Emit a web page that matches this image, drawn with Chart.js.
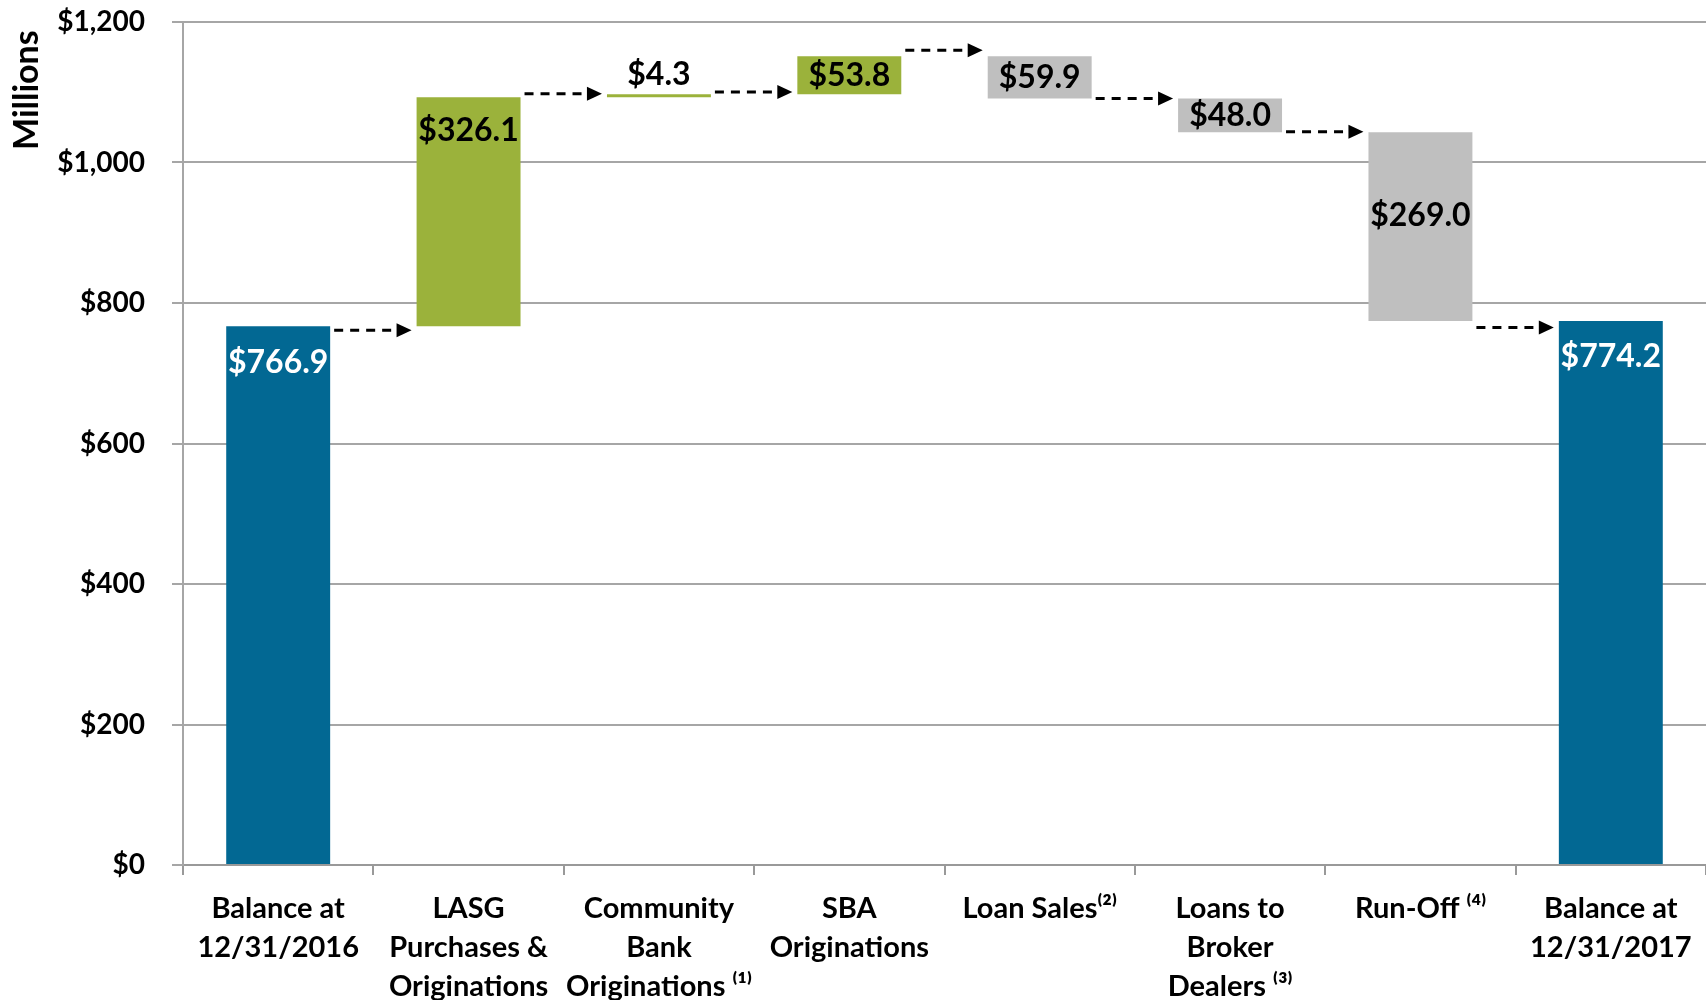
<!DOCTYPE html>
<html><head><meta charset="utf-8">
<script src="https://cdn.jsdelivr.net/npm/chart.js@4.4.1/dist/chart.umd.min.js"></script>
<style>html,body{margin:0;padding:0;background:#fff;overflow:hidden}#wrap{width:1706px;height:1000px;}</style>
</head><body><div id="wrap"><canvas id="c" width="1706" height="1000"></canvas></div>
<script>
// ---- data ----
const categories = [
  ['Balance at', '12/31/2016'],
  ['LASG', 'Purchases &', 'Originations'],
  ['Community', 'Bank', 'Originations \u207D\u00B9\u207E'],
  ['SBA', 'Originations'],
  ['Loan Sales\u207D\u00B2\u207E'],
  ['Loans to', 'Broker', 'Dealers \u207D\u00B3\u207E'],
  ['Run-Off \u207D\u2074\u207E'],
  ['Balance at', '12/31/2017']
];
const startBalance = 766.9;
const changes = [326.1, 4.3, 53.8, -59.9, -48.0, -269.0];
const endBalance = 774.2;
const arrowLevels = [761.3, 1097.8, 1100.4, 1159.8, 1091.1, 1043.6, 765.2];
const yTicks = [0, 200, 400, 600, 800, 1000, 1200];

// ---- build waterfall ranges ----
const ranges = [[0, startBalance]];
let run = startBalance;
changes.forEach(c => { ranges.push([run, +(run + c).toFixed(1)]); run = +(run + c).toFixed(1); });
ranges.push([0, endBalance]);
const labelValues = [startBalance, ...changes.map(Math.abs), endBalance];

const BLUE = '#026893', GREEN = '#9bb23b', GRAY = '#bfbfbf';
const colors = ranges.map((r, i) => (i === 0 || i === ranges.length - 1) ? BLUE : (r[1] >= r[0] ? GREEN : GRAY));

const FONT = 'Lato';

const labelPlugin = {
  id: 'wfLabels',
  afterDatasetsDraw(chart) {
    const ctx = chart.ctx;
    const meta = chart.getDatasetMeta(0);
    const n = meta.data.length;
    ctx.save();
    ctx.font = `bold 32px ${FONT}`;
    ctx.textAlign = 'center';
    ctx.textBaseline = 'middle';
    meta.data.forEach((bar, i) => {
      const p = bar.getProps(['x', 'y', 'base'], true);
      const top = Math.min(p.y, p.base), bot = Math.max(p.y, p.base), h = bot - top;
      const inc = ranges[i][1] >= ranges[i][0];
      let ly, col = '#000';
      if (i === 0 || i === n - 1) { ly = top + 36; col = '#fff'; }
      else if (h < 10) { ly = top - 19; }
      else if (inc && h > 100) { ly = top + 34; }
      else { ly = (top + bot) / 2 - (h > 100 ? 11 : 0); }
      ctx.fillStyle = col;
      ctx.fillText('$' + labelValues[i].toFixed(1), p.x, ly);
    });
    ctx.restore();
  }
};

const arrowPlugin = {
  id: 'wfArrows',
  afterDatasetsDraw(chart) {
    const ctx = chart.ctx;
    const meta = chart.getDatasetMeta(0);
    const ys = chart.scales.y;
    ctx.save();
    for (let i = 0; i < meta.data.length - 1; i++) {
      const a = meta.data[i].getProps(['x', 'width'], true);
      const b = meta.data[i + 1].getProps(['x', 'width'], true);
      const x0 = a.x + a.width / 2 + 4;
      const tip = b.x - b.width / 2 - 5;
      const y = ys.getPixelForValue(arrowLevels[i]);
      const head = 15;
      ctx.strokeStyle = '#000';
      ctx.lineWidth = 3;
      ctx.setLineDash([9, 7]);
      ctx.beginPath();
      ctx.moveTo(x0, y);
      ctx.lineTo(tip - head, y);
      ctx.stroke();
      ctx.setLineDash([]);
      ctx.fillStyle = '#000';
      ctx.beginPath();
      ctx.moveTo(tip, y);
      ctx.lineTo(tip - head, y - 7);
      ctx.lineTo(tip - head, y + 7);
      ctx.closePath();
      ctx.fill();
    }
    ctx.restore();
  }
};

function build() {
  new Chart(document.getElementById('c'), {
    type: 'bar',
    data: {
      labels: categories,
      datasets: [{
        data: ranges,
        backgroundColor: colors,
        borderWidth: 0,
        categoryPercentage: 1,
        barPercentage: 0.546
      }]
    },
    options: {
      responsive: false,
      animation: false,
      devicePixelRatio: 1,
      layout: { padding: 0 },
      plugins: { legend: { display: false }, tooltip: { enabled: false } },
      scales: {
        x: {
          grid: { offset: true, drawOnChartArea: false, drawTicks: true, tickLength: 10, color: '#999', lineWidth: 2 },
          border: { display: true, color: '#999', width: 2 },
          ticks: {
            font: { family: FONT, weight: 'bold', size: 29, lineHeight: 1.35 },
            color: '#000', padding: 14, maxRotation: 0, minRotation: 0, autoSkip: false
          },
          afterFit(s) { s.height = 135; }
        },
        y: {
          min: yTicks[0], max: yTicks[yTicks.length - 1],
          afterBuildTicks(s) { s.ticks = yTicks.map(v => ({ value: v })); },
          ticks: {
            callback: v => '$' + v.toLocaleString('en-US'),
            font: { family: FONT, weight: 'bold', size: 28 },
            color: '#000', padding: 27
          },
          grid: { color: '#a6a6a6', lineWidth: 2, tickLength: 11, drawTicks: true },
          border: { display: true, color: '#a6a6a6', width: 2 },
          title: {
            display: true, text: 'Millions ', align: 'end',
            font: { family: FONT, weight: 'bold', size: 34 },
            color: '#000', padding: { top: 7, bottom: 0 }
          },
          afterFit(s) { s.width = 183; s.paddingTop = 22; s.paddingBottom = 0; }
        }
      }
    },
    plugins: [arrowPlugin, labelPlugin]
  });
}
const fl = ['bold 28px Lato', 'bold 32px Lato', 'bold 34px Lato', 'bold 29px Lato'].map(f => document.fonts.load(f));
Promise.all(fl).then(build, build);
</script></body></html>
